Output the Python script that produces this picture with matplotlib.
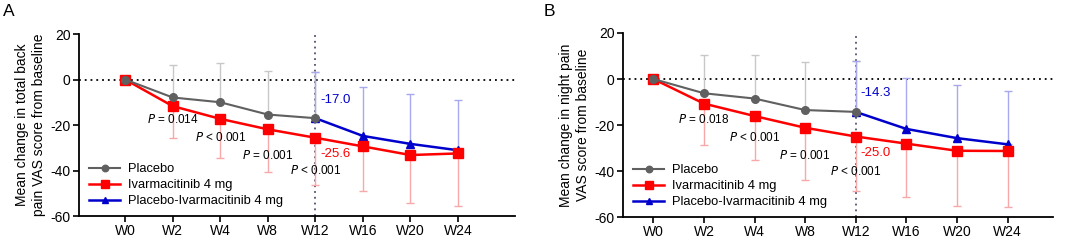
import numpy as np
import matplotlib.pyplot as plt

plt.rcParams['font.family'] = ['Liberation Sans', 'DejaVu Sans']
plt.rcParams['axes.unicode_minus'] = False

weeks = ['W0', 'W2', 'W4', 'W8', 'W12', 'W16', 'W20', 'W24']

# panel A: total back pain
a_placebo = [0, -7.9, -10.0, -15.4, -17.0]
a_placebo_top = [0, 6.3, 7.2, 3.7, 3.1]
a_ivar = [0, -11.7, -17.3, -21.9, -25.6, -29.4, -33.2, -32.5]
a_ivar_bottom = [0, -25.7, -34.5, -40.8, -46.5, -49.2, -54.3, -55.4]
a_switch = [-17.0, -24.8, -28.3, -31.1]
a_switch_top = [3.1, -3.5, -6.3, -9.1]
a_pvals = ['= 0.014', '< 0.001', '= 0.001', '< 0.001']
a_ylabel = 'Mean change in total back\npain VAS score from baseline'

# panel B: night pain
b_placebo = [0, -6.2, -8.5, -13.5, -14.3]
b_placebo_top = [0, 10.3, 10.4, 7.6, 7.9]
b_ivar = [0, -10.7, -16.1, -21.2, -25.0, -28.1, -31.2, -31.3]
b_ivar_bottom = [0, -28.9, -35.0, -43.7, -48.7, -51.3, -55.4, -55.8]
b_switch = [-14.3, -21.7, -25.7, -28.4]
b_switch_top = [7.9, 0.5, -2.8, -5.2]
b_pvals = ['= 0.018', '< 0.001', '= 0.001', '< 0.001']
b_ylabel = 'Mean change in night pain\nVAS score from baseline'

GREY, RED, BLUE = '#606060', '#ff0000', '#0000cc'


def panel(ax, placebo, placebo_top, ivar, ivar_bottom, switch, switch_top,
          pvals, ylabel, xlim, p_y):
    x = np.arange(len(weeks))
    xp = x[:len(placebo)]
    xs = x[len(placebo) - 1:]
    pl = np.array(placebo); iv = np.array(ivar); sw = np.array(switch)

    ax.axhline(0, color='black', ls=(0, (1, 2.2)), lw=1.3, zorder=1)
    ax.axvline(4, color='#505070', ls=(0, (1, 2.2)), lw=1.3, zorder=1)

    ax.errorbar(xp, pl, yerr=[np.zeros_like(pl), np.array(placebo_top) - pl],
                fmt='none', ecolor='#c8c8c8', elinewidth=1, capsize=3, zorder=2)
    ax.errorbar(x, iv, yerr=[iv - np.array(ivar_bottom), np.zeros_like(iv)],
                fmt='none', ecolor='#f7a8a8', elinewidth=1, capsize=3, zorder=2)
    ax.errorbar(xs, sw, yerr=[np.zeros_like(sw), np.array(switch_top) - sw],
                fmt='none', ecolor='#a8a8ee', elinewidth=1, capsize=3, zorder=2)

    ax.plot(xs, sw, color=BLUE, marker='^', ms=5.5, lw=1.8, zorder=3,
            label='Placebo-Ivarmacitinib 4 mg')
    ax.plot(x, iv, color=RED, marker='s', ms=6.5, lw=1.8, zorder=4,
            label='Ivarmacitinib 4 mg')
    ax.plot(xp, pl, color=GREY, marker='o', ms=5.5, lw=1.5, zorder=5,
            label='Placebo')

    for i, (txt, py) in enumerate(zip(pvals, p_y)):
        ax.text(i + 1, py, '$\\it{P}$ ' + txt, ha='center', va='center',
                fontsize=8.5, zorder=6)
    ax.text(4.1, switch[0] + 8, f'{switch[0]:.1f}', color=BLUE, fontsize=9.5,
            va='center', ha='left')
    ax.text(4.1, ivar[4] - 7, f'{ivar[4]:.1f}', color=RED, fontsize=9.5,
            va='center', ha='left')

    ax.set_xlim(*xlim)
    ax.set_ylim(-60, 20)
    ax.set_yticks([-60, -40, -20, 0, 20])
    ax.set_xticks(x)
    ax.set_xticklabels(weeks)
    ax.tick_params(labelsize=10, length=4, width=1.2, pad=2)
    ax.set_ylabel(ylabel, fontsize=10, labelpad=3, linespacing=1.3)
    for s in ['top', 'right']:
        ax.spines[s].set_visible(False)
    for s in ['left', 'bottom']:
        ax.spines[s].set_linewidth(1.3)

    h, l = ax.get_legend_handles_labels()
    ax.legend(h[::-1], l[::-1], loc='lower left', frameon=False, fontsize=9.3,
              handlelength=2.4, handletextpad=0.6, labelspacing=0.3,
              borderaxespad=0.0, markerscale=0.85,
              bbox_to_anchor=(0.012, 0.02))


fig = plt.figure(figsize=(10.65, 2.4), dpi=100)
axA = fig.add_axes([0.0742, 0.1, 0.4094, 0.7583])
axB = fig.add_axes([0.585, 0.0958, 0.4038, 0.7667])

panel(axA, a_placebo, a_placebo_top, a_ivar, a_ivar_bottom, a_switch,
      a_switch_top, a_pvals, a_ylabel, (-0.97, 8.2), [-17.5, -25.5, -33.4, -40])
panel(axB, b_placebo, b_placebo_top, b_ivar, b_ivar_bottom, b_switch,
      b_switch_top, b_pvals, b_ylabel, (-0.6, 7.9), [-17.5, -25.5, -33.4, -40])

fig.text(0.003, 0.95, 'A', fontsize=12.5, va='center')
fig.text(0.510, 0.95, 'B', fontsize=12.5, va='center')

fig.savefig('out.png', dpi=100)
